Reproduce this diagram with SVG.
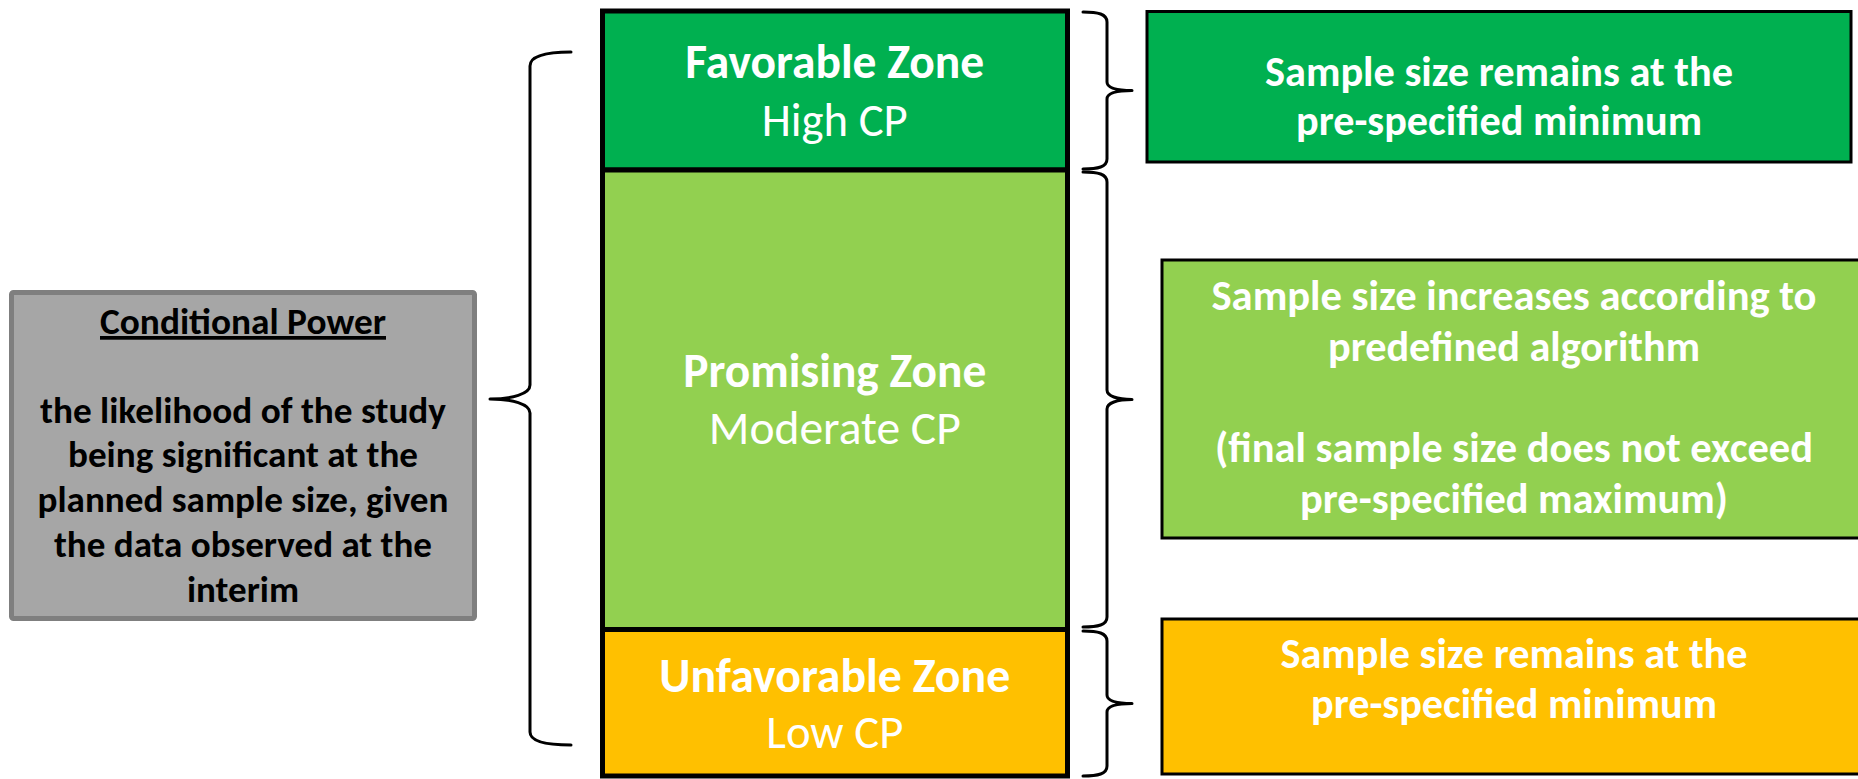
<svg xmlns="http://www.w3.org/2000/svg" width="1858" height="779" viewBox="0 0 1858 779">
  <style>
    text { font-family: Carlito, Lato, "Open Sans", sans-serif; text-anchor: middle; }
    .b { font-weight: 700; }
    .r { font-weight: 400; }
    .zone-title { font-size: 48px; font-weight: 700; fill: #ffffff; }
    .zone-cp { font-size: 48px; font-weight: 400; fill: #ffffff; }
    .action { font-size: 42px; font-weight: 700; fill: #ffffff; }
    .def { font-size: 37px; font-weight: 700; fill: #000000; }
    .zone { stroke: #000000; stroke-width: 5; }
    .action-box { stroke: #000000; stroke-width: 3; }
    .brace { fill: none; stroke: #000000; stroke-width: 3; stroke-linecap: round; stroke-linejoin: round; }
  </style>

  <rect x="0" y="0" width="1858" height="779" fill="#ffffff"/>

  <!-- Definition box -->
  <g id="conditional-power">
    <rect x="11.5" y="292.5" width="463" height="326" rx="2" fill="#a6a6a6" stroke="#7f7f7f" stroke-width="5"/>
    <text class="def" x="243" y="334" textLength="286" lengthAdjust="spacingAndGlyphs" text-decoration="underline">Conditional Power</text>
    <text class="def" x="243" y="423" textLength="406" lengthAdjust="spacingAndGlyphs">the likelihood of the study</text>
    <text class="def" x="243" y="467" textLength="350" lengthAdjust="spacingAndGlyphs">being significant at the</text>
    <text class="def" x="243" y="512" textLength="411" lengthAdjust="spacingAndGlyphs">planned sample size, given</text>
    <text class="def" x="243" y="557" textLength="378" lengthAdjust="spacingAndGlyphs">the data observed at the</text>
    <text class="def" x="243" y="602" textLength="112" lengthAdjust="spacingAndGlyphs">interim</text>
  </g>

  <!-- Zone column -->
  <g id="zone-favorable">
    <rect class="zone" x="602.5" y="11" width="465" height="159" fill="#00b050"/>
    <text class="zone-title" x="834.75" y="78" textLength="299" lengthAdjust="spacingAndGlyphs">Favorable Zone</text>
    <text class="zone-cp" x="834.75" y="136" textLength="146" lengthAdjust="spacingAndGlyphs">High CP</text>
  </g>
  <g id="zone-promising">
    <rect class="zone" x="602.5" y="170" width="465" height="459.5" fill="#92d050"/>
    <text class="zone-title" x="834.75" y="387" textLength="303" lengthAdjust="spacingAndGlyphs">Promising Zone</text>
    <text class="zone-cp" x="834.75" y="444" textLength="252" lengthAdjust="spacingAndGlyphs">Moderate CP</text>
  </g>
  <g id="zone-unfavorable">
    <rect class="zone" x="602.5" y="629.5" width="465" height="146.5" fill="#ffc000"/>
    <text class="zone-title" x="834.75" y="692" textLength="351" lengthAdjust="spacingAndGlyphs">Unfavorable Zone</text>
    <text class="zone-cp" x="834.75" y="748" textLength="137" lengthAdjust="spacingAndGlyphs">Low CP</text>
  </g>

  <!-- Sample size actions -->
  <g id="action-favorable">
    <rect class="action-box" x="1147" y="11.5" width="704" height="150.5" fill="#00b050"/>
    <text class="action" x="1499" y="86" textLength="468" lengthAdjust="spacingAndGlyphs">Sample size remains at the</text>
    <text class="action" x="1499" y="135" textLength="406" lengthAdjust="spacingAndGlyphs">pre-specified minimum</text>
  </g>
  <g id="action-promising">
    <rect class="action-box" x="1162" y="260" width="710" height="278" fill="#92d050"/>
    <text class="action" x="1514" y="310" textLength="605" lengthAdjust="spacingAndGlyphs">Sample size increases according to</text>
    <text class="action" x="1514" y="361" textLength="372" lengthAdjust="spacingAndGlyphs">predefined algorithm</text>
    <text class="action" x="1514" y="462" textLength="598" lengthAdjust="spacingAndGlyphs">(final sample size does not exceed</text>
    <text class="action" x="1514" y="513" textLength="428" lengthAdjust="spacingAndGlyphs">pre-specified maximum)</text>
  </g>
  <g id="action-unfavorable">
    <rect class="action-box" x="1162" y="619" width="710" height="155" fill="#ffc000"/>
    <text class="action" x="1514" y="668" textLength="467" lengthAdjust="spacingAndGlyphs">Sample size remains at the</text>
    <text class="action" x="1514" y="718" textLength="406" lengthAdjust="spacingAndGlyphs">pre-specified minimum</text>
  </g>

  <!-- Braces -->
  <g id="connectors">
    <path class="brace" d="M571,52 C548,52 530,55 530,66 L530,385 C530,394 512,399 490,399 C512,399 530,404 530,413 L530,732 C530,742 548,745 571,745"/>
    <path class="brace" d="M1083,12 C1098,12 1107,14 1107,22 L1107,82 C1107,88 1117,90.5 1132,90.5 C1117,90.5 1107,93 1107,99 L1107,159 C1107,167 1098,169 1083,169"/>
    <path class="brace" d="M1083,172 C1098,172 1107,174 1107,182 L1107,390 C1107,396 1117,399.5 1132,399.5 C1117,399.5 1107,403 1107,409 L1107,617 C1107,625 1098,627 1083,627"/>
    <path class="brace" d="M1083,631 C1098,631 1107,633 1107,641 L1107,695 C1107,701 1117,703.5 1132,703.5 C1117,703.5 1107,706 1107,712 L1107,766 C1107,774 1098,776 1083,776"/>
  </g>
</svg>
